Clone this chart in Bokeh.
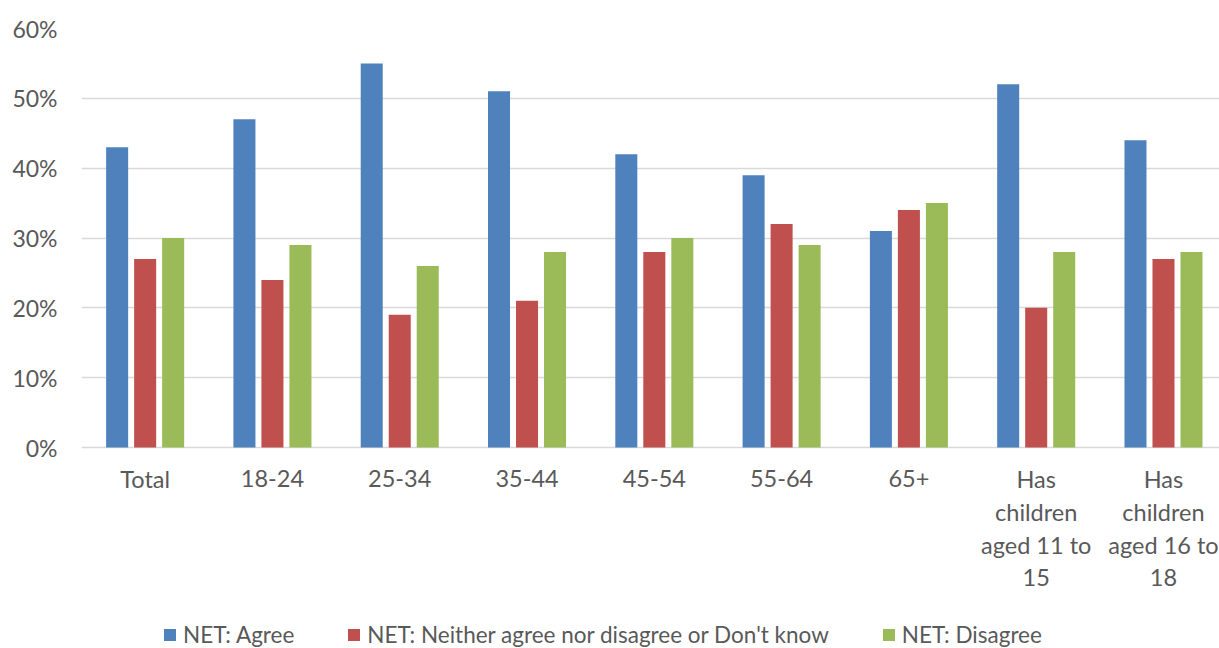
from bokeh.plotting import figure
from bokeh.models import (Range1d, FixedTicker, PrintfTickFormatter, Legend,
                          LegendItem, ColumnDataSource)
from bokeh.core.properties import value
from bokeh.embed import file_html
from bokeh.resources import INLINE

# Survey results (percent of respondents)
categories = ["Total", "18-24", "25-34", "35-44", "45-54", "55-64", "65+",
              "Has\nchildren\naged 11 to\n15", "Has\nchildren\naged 16 to\n18"]
agree = [43, 47, 55, 51, 42, 39, 31, 52, 44]
neither = [27, 24, 19, 21, 28, 32, 34, 20, 27]
disagree = [30, 29, 26, 28, 30, 29, 35, 28, 28]
series_names = ["NET: Agree", "NET: Neither agree nor disagree or Don't know", "NET: Disagree"]
y_ticks = [0, 10, 20, 30, 40, 50, 60]

FONT = "Lato"
TEXT = "#595959"
GRID = "#d9d9d9"
colors = ["#4f81bd", "#c0504d", "#9bbb59"]

centers = [i + 0.5 for i in range(len(categories))]

# The frame runs to the bottom of the canvas so the category labels and the
# legend can live underneath the 0% line; only 0..60 carries ticks and grid.
W, H = 1219, 648
TOP, LEFT, ZERO_PX = 28, 81, 447
px_per_unit = (ZERO_PX - TOP) / 60
y_floor = -(H - ZERO_PX) / px_per_unit

p = figure(width=W, height=H, output_backend="svg", toolbar_location=None,
           x_range=Range1d(0, 8.94), y_range=Range1d(y_floor, 60),
           x_axis_location=None,
           min_border_left=LEFT, min_border_right=0, min_border_top=TOP,
           min_border_bottom=0)
p.outline_line_color = None
p.background_fill_color = "white"
p.border_fill_color = "white"

renderers = []
for k, (vals, col) in enumerate(zip([agree, neither, disagree], colors)):
    src = ColumnDataSource(dict(x=[c + (k - 1) * 0.22 for c in centers], top=vals))
    r = p.vbar(x="x", top="top", bottom=0, width=0.173, source=src,
               fill_color=col, line_color=None)
    renderers.append(r)

# category labels under the baseline, one text item per wrapped line
FIRST_BASELINE, LINE_STEP = 31, 33
lx, ly, ltext, loff = [], [], [], []
for c, lab in zip(centers, categories):
    for j, line in enumerate(lab.split("\n")):
        lx.append(c)
        ly.append(0)
        ltext.append(line)
        loff.append(FIRST_BASELINE + j * LINE_STEP)
lab_src = ColumnDataSource(dict(x=lx, y=ly, text=ltext, off=loff))
p.text(x="x", y="y", text="text", y_offset="off", source=lab_src,
       text_align="center", text_baseline="alphabetic", text_font=value(FONT),
       text_font_size="23.5px", text_color=TEXT)

# y axis
p.yaxis.ticker = FixedTicker(ticks=y_ticks)
p.yaxis.formatter = PrintfTickFormatter(format="%d%%")
p.yaxis.axis_line_color = None
p.yaxis.major_tick_line_color = None
p.yaxis.minor_tick_line_color = None
p.yaxis.major_label_text_font = FONT
p.yaxis.major_label_text_font_size = "23px"
p.yaxis.major_label_text_color = TEXT
p.yaxis.major_label_standoff = 18

p.xgrid.grid_line_color = None
p.ygrid.ticker = FixedTicker(ticks=y_ticks)
p.ygrid.grid_line_color = GRID
p.ygrid.grid_line_width = 1.5

legend = Legend(items=[LegendItem(label=n, renderers=[r]) for n, r in zip(series_names, renderers)],
                orientation="horizontal", location=(81, 0),
                label_text_font=FONT, label_text_font_size="22.5px",
                label_text_color=TEXT, glyph_width=15, glyph_height=15,
                label_standoff=6, spacing=52, border_line_color=None,
                background_fill_alpha=0, padding=0, margin=0)
p.add_layout(legend, "center")

open("out.html", "w").write(file_html(p, INLINE))
